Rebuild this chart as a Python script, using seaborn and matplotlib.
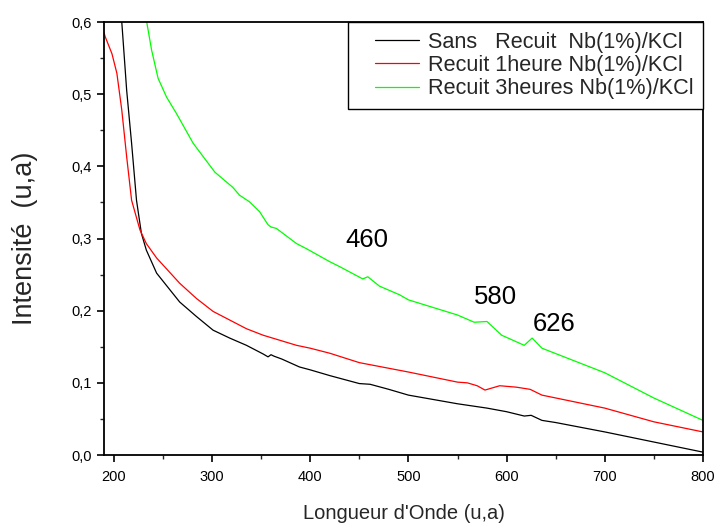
import numpy as np
import pandas as pd
import matplotlib
matplotlib.use("Agg")
import matplotlib.pyplot as plt
import seaborn as sns
from matplotlib.ticker import MultipleLocator, FuncFormatter
from matplotlib.legend_handler import HandlerLine2D

# ---- data ----
series_names = ["Sans   Recuit  Nb(1%)/KCl",
                "Recuit 1heure Nb(1%)/KCl",
                "Recuit 3heures Nb(1%)/KCl"]
series_colors = ["#000000", "#ff0000", "#00ff00"]

x_black = [200, 208, 213, 218, 223, 228, 233, 243.5, 257, 267, 284, 301, 318, 335,
           352, 357, 360, 363, 371, 389, 400, 420, 450, 461, 480, 500, 550, 580,
           600, 618, 625, 636, 650, 700, 750, 800]
y_black = [0.78, 0.600, 0.505, 0.432, 0.353, 0.307, 0.284, 0.252, 0.229, 0.212,
           0.192, 0.173, 0.162, 0.152, 0.140, 0.136, 0.139, 0.137, 0.133, 0.122,
           0.118, 0.110, 0.099, 0.098, 0.091, 0.083, 0.071, 0.065, 0.060, 0.054,
           0.055, 0.048, 0.045, 0.032, 0.018, 0.004]

x_red = [190, 191, 198, 203, 208, 213, 218, 226.5, 233, 243.5, 267, 284, 301, 318,
         335, 352, 369, 386, 400, 420, 450, 500, 550, 560, 570, 578, 593, 610, 624,
         636, 700, 750, 800]
y_red = [0.585, 0.580, 0.556, 0.529, 0.478, 0.413, 0.353, 0.312, 0.293, 0.273,
         0.238, 0.217, 0.199, 0.187, 0.175, 0.166, 0.159, 0.152, 0.148, 0.141,
         0.128, 0.115, 0.101, 0.100, 0.096, 0.090, 0.096, 0.094, 0.091, 0.083,
         0.065, 0.046, 0.032]

x_green = [228, 233.4, 238.4, 245, 253.6, 263.8, 280.7, 302.8, 321, 328, 338, 348.5,
           357, 360, 365.5, 386, 396, 419.7, 430, 453.5, 458.6, 470.5, 491, 500, 550,
           567, 580, 595, 618, 626, 636, 700, 750, 800]
y_green = [0.68, 0.600, 0.561, 0.522, 0.496, 0.473, 0.432, 0.392, 0.371, 0.360,
           0.351, 0.337, 0.319, 0.316, 0.314, 0.293, 0.286, 0.268, 0.261, 0.244,
           0.247, 0.234, 0.222, 0.215, 0.194, 0.184, 0.185, 0.166, 0.152, 0.162,
           0.148, 0.114, 0.079, 0.048]

peak_labels = ["460", "580", "626"]
peak_label_x = [458, 589, 648]
peak_label_y = [0.298, 0.219, 0.181]

x_label = "Longueur d'Onde (u,a)"
y_label = "Intensité  (u,a)"

# ---- build long table ----
frames = []
for name, xs, ys in zip(series_names, [x_black, x_red, x_green],
                        [y_black, y_red, y_green]):
    frames.append(pd.DataFrame({"x": xs, "y": ys, "serie": name}))
df = pd.concat(frames, ignore_index=True)

sns.set_style("ticks")
plt.rcParams["font.family"] = ["Liberation Sans", "DejaVu Sans"]

fig = plt.figure(figsize=(7.18, 5.27), dpi=100)
ax = fig.add_axes([0.145, 0.1366, 0.834, 0.8216])

sns.lineplot(data=df, x="x", y="y", hue="serie", hue_order=series_names,
             palette=dict(zip(series_names, series_colors)), estimator=None,
             sort=False, linewidth=0.9, ax=ax)

ax.set_xlim(190, 800)
ax.set_ylim(0, 0.6)
ax.xaxis.set_major_locator(MultipleLocator(100))
ax.xaxis.set_minor_locator(MultipleLocator(50))
ax.yaxis.set_major_locator(MultipleLocator(0.1))
ax.yaxis.set_minor_locator(MultipleLocator(0.05))
ax.yaxis.set_major_formatter(FuncFormatter(lambda v, p: f"{v:.1f}".replace(".", ",")))

for s in ax.spines.values():
    s.set_visible(True)
    s.set_linewidth(1.3)
    s.set_color("black")

ax.tick_params(axis="both", which="major", direction="out", length=5, width=1.2,
               labelsize=10.5, colors="black")
ax.tick_params(axis="both", which="minor", direction="out", length=3, width=1.0)
ax.tick_params(axis="x", which="major", pad=6)
ax.tick_params(axis="y", which="major", pad=4)

ax.set_xlabel(x_label, fontsize=14.5, labelpad=14)
ax.set_ylabel(y_label, fontsize=19.5, labelpad=24)

for lab, lx, ly in zip(peak_labels, peak_label_x, peak_label_y):
    ax.text(lx, ly, lab, fontsize=18.5, ha="center", va="center", color="black")


class ShiftedLine(HandlerLine2D):
    """Legend line that only occupies the right part of the handle box."""
    frac = 0.28

    def create_artists(self, legend, orig_handle, xdescent, ydescent, width,
                       height, fontsize, trans):
        artists = super().create_artists(legend, orig_handle, xdescent, ydescent,
                                         width, height, fontsize, trans)
        for a in artists:
            xd = np.asarray(a.get_xdata(), dtype=float)
            if xd.size >= 2:
                x0, x1 = xd[0], xd[-1]
                a.set_xdata(np.linspace(x0 + self.frac * (x1 - x0), x1, xd.size))
        return artists


handles, labels = ax.get_legend_handles_labels()
for h in handles:
    h.set_linewidth(0.9)
leg = ax.legend(handles, labels, loc="upper right", fontsize=15.6, frameon=True,
                fancybox=False, framealpha=1, edgecolor="black",
                borderaxespad=0, handlelength=2.8, handletextpad=0.4,
                labelspacing=0.1, borderpad=0.45,
                handler_map={h: ShiftedLine() for h in handles})
leg.get_frame().set_linewidth(1.0)

fig.savefig("out.png", dpi=100)
